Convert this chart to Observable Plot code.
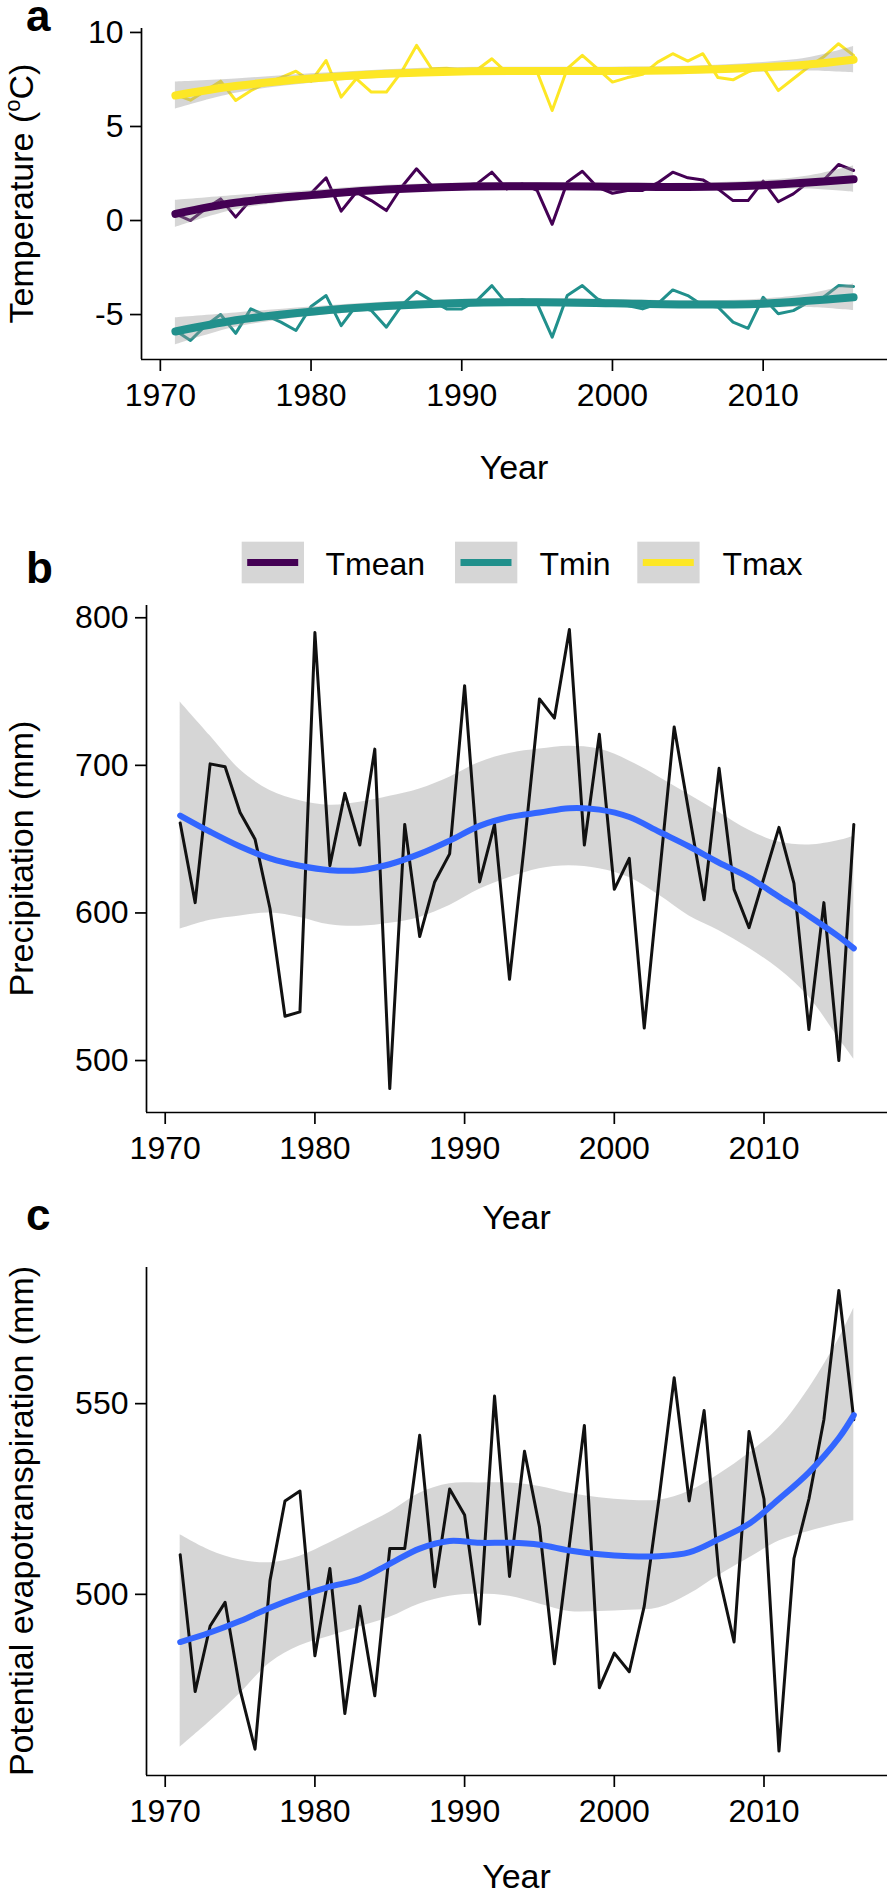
<!DOCTYPE html>
<html>
<head>
<meta charset="utf-8">
<script src="https://cdn.jsdelivr.net/npm/d3@7"></script>
<script src="https://cdn.jsdelivr.net/npm/@observablehq/plot@0.6"></script>
<style>
  html, body { margin: 0; padding: 0; background: #fff; }
  #fig { position: relative; width: 896px; height: 1897px; overflow: hidden; background: #fff; }
  #fig svg { position: absolute; left: 0; }
</style>
</head>
<body>
<div id="fig"></div>
<script>
// ---------------- data ----------------
const years = [1971,1972,1973,1974,1975,1976,1977,1978,1979,1980,
  1981,1982,1983,1984,1985,1986,1987,1988,1989,1990,
  1991,1992,1993,1994,1995,1996,1997,1998,1999,2000,
  2001,2002,2003,2004,2005,2006,2007,2008,2009,2010,
  2011,2012,2013,2014,2015,2016];

const tmean = [0.35,0.0,0.62,1.15,0.18,1.1,1.0,1.1,1.2,1.45,
  2.27,0.5,1.5,1.06,0.53,1.77,2.75,1.86,1.77,1.86,
  1.95,2.57,1.68,1.95,1.6,-0.2,2.04,2.62,1.77,1.45,
  1.6,1.6,2.0,2.57,2.27,2.16,1.68,1.06,1.06,2.09,
  1.0,1.42,2.04,2.13,2.98,2.66];
const tmin = [-5.85,-6.38,-5.59,-5.0,-6.0,-4.7,-5.05,-5.4,-5.85,-4.57,
  -3.99,-5.59,-4.52,-4.79,-5.67,-4.52,-3.78,-4.26,-4.7,-4.7,
  -4.26,-3.46,-4.43,-4.2,-4.4,-6.2,-3.99,-3.46,-4.17,-4.43,
  -4.52,-4.7,-4.43,-3.69,-3.99,-4.52,-4.6,-5.4,-5.73,-4.08,
  -4.96,-4.79,-4.34,-4.08,-3.46,-3.51];
const tmax = [6.7,6.4,6.9,7.41,6.38,6.9,7.3,7.6,7.94,7.4,
  8.51,6.56,7.54,6.83,6.83,7.9,9.31,8.07,8.1,8.0,
  8.0,8.6,7.85,8.07,7.9,5.85,8.07,8.78,8.07,7.36,
  7.6,7.77,8.42,8.87,8.48,8.87,7.6,7.48,7.9,8.16,
  6.91,7.54,8.16,8.69,9.4,8.78];

const precip = [661,607,701,699,668,650,603,530,533,790,
  632,681,646,711,481,660,584,621,640,754,
  621,660,555,647,745,732,792,646,721,616,
  637,522,624,726,667,609,698,616,590,624,
  658,620,521,607,500,660];
const pet = [510.4,474.5,491.7,497.9,475,459.4,503.6,524.5,527.1,483.9,
  506.8,468.75,496.9,473.4,512,512,541.7,502,527.6,520.8,
  492.2,552,504.7,537.5,517.7,481.8,513,544.3,475.5,484.6,
  479.7,496.9,525.5,556.8,524.5,548.2,504.7,487.5,542.7,525,
  458.9,509.4,525,545.8,579.7,545.8];

// smoothed (loess) curves and their confidence bands
const fitYearsA = [1971,1975,1980,1985,1990,1995,2000,2005,2010,2013,2016];
const tmeanFit = [0.35,0.95,1.35,1.65,1.8,1.82,1.8,1.78,1.88,2.02,2.2];
const tmeanLo  = [-0.37,0.57,1.10,1.43,1.60,1.62,1.60,1.58,1.63,1.67,1.50];
const tmeanHi  = [1.07,1.33,1.60,1.87,2.00,2.02,2.00,1.98,2.13,2.37,2.90];
const tminFit  = [-5.9,-5.3,-4.85,-4.55,-4.38,-4.35,-4.4,-4.47,-4.42,-4.27,-4.08];
const tminLo   = [-6.62,-5.68,-5.10,-4.77,-4.58,-4.55,-4.60,-4.67,-4.67,-4.62,-4.78];
const tminHi   = [-5.18,-4.92,-4.60,-4.33,-4.18,-4.15,-4.20,-4.27,-4.17,-3.92,-3.38];
const tmaxFit  = [6.65,7.15,7.55,7.8,7.93,7.95,7.95,8.0,8.15,8.3,8.55];
const tmaxLo   = [5.93,6.77,7.30,7.58,7.73,7.75,7.75,7.80,7.90,7.95,7.85];
const tmaxHi   = [7.37,7.53,7.80,8.02,8.13,8.15,8.15,8.20,8.40,8.65,9.25];

const fitYears = [1971,1973,1975,1977,1979,1981,1983,1985,1987,1989,1991,1993,
  1995,1997,1999,2001,2003,2005,2007,2009,2011,2013,2015,2016];
const precipFit = [666,655,645,637,632,629,629,633,640,649,659,665,668,671,670,665,655,645,634,624,611,598,584,576];
const precipHi  = [743,720,697,683,676,673,675,679,684,692,702,708,711,713,711,703,692,680,668,656,648,646,649,652];
const precipLo  = [589,595,598,600,597,592,591,593,597,605,616,624,630,632,630,624,612,598,588,576,562,543,515,501];
const petFit = [487.5,490,493,496.5,499.5,502,504,508,512,514,513.5,513.5,513,511.5,510.5,510,510,511,514.5,518.5,525,532,541,547];
const petHi  = [515.6,511.5,509,508.3,510,513.5,517.5,521.5,526.5,529,529.2,529.2,528.3,526.5,525.3,524.7,524.7,527,531.5,537,543.7,554,567,575];
const petLo  = [459.9,466.7,474,482,486.5,489,491.5,494,497.5,499.5,500,499.5,497.5,495.5,495.5,495.8,496.5,500,505,509.5,514,516.5,518.5,519.3];

const seriesNames = ["Tmean","Tmin","Tmax"];
const seriesColors = ["#440154","#21908C","#FDE725"];
const xTicks = [1970,1980,1990,2000,2010];
const tempTicks = [-5,0,5,10];
const precipTicks = [500,600,700,800];
const petTicks = [500,550];

// ---------------- build tables ----------------
const tempRaw = [], tempFit = [];
[[tmean, tmeanFit, tmeanLo, tmeanHi],[tmin, tminFit, tminLo, tminHi],[tmax, tmaxFit, tmaxLo, tmaxHi]]
  .forEach(([raw, fit, lo, hi], k) => {
    years.forEach((y, i) => tempRaw.push({year: y, value: raw[i], series: seriesNames[k]}));
    fitYearsA.forEach((y, i) => tempFit.push({year: y, fit: fit[i], lo: lo[i], hi: hi[i], series: seriesNames[k]}));
  });
const precipRaw = years.map((y, i) => ({year: y, value: precip[i]}));
const petRaw = years.map((y, i) => ({year: y, value: pet[i]}));
const precipSm = fitYears.map((y, i) => ({year: y, fit: precipFit[i], lo: precipLo[i], hi: precipHi[i]}));
const petSm = fitYears.map((y, i) => ({year: y, fit: petFit[i], lo: petLo[i], hi: petHi[i]}));

// ---------------- drawing ----------------
const FONT = '"Liberation Sans", Arial, Helvetica, sans-serif';
const X_DOMAIN = [1968.75, 2018.25];
const fig = document.getElementById("fig");

function panel({top, height, marginTop, marginBottom, marginLeft, yDomain, yTicks, marks}) {
  const svg = Plot.plot({
    width: 896, height, marginTop, marginBottom, marginLeft, marginRight: 9,
    x: {domain: X_DOMAIN},
    y: {domain: yDomain},
    color: {domain: seriesNames, range: seriesColors},
    style: {fontFamily: FONT, fontSize: "32px", color: "#000", background: "transparent"},
    marks: [
      ...marks,
      Plot.ruleX([X_DOMAIN[0]], {stroke: "#000", strokeWidth: 1.7}),
      Plot.ruleY([yDomain[0]], {stroke: "#000", strokeWidth: 1.7}),
      Plot.axisX({ticks: xTicks, tickFormat: d => String(d), tickSize: 12, tickPadding: 12,
        fontSize: 32, label: null, stroke: "#000", strokeWidth: 1.7}),
      Plot.axisY({ticks: yTicks, tickFormat: d => String(d), tickSize: 11, tickPadding: 7,
        fontSize: 32, label: null, stroke: "#000", strokeWidth: 1.7})
    ]
  });
  svg.style.top = top + "px";
  fig.appendChild(svg);
}

// panel a
panel({
  top: 0, height: 430, marginTop: 28, marginBottom: 71, marginLeft: 141,
  yDomain: [-7.39, 10.21], yTicks: tempTicks,
  marks: [
    Plot.line(tempRaw, {x: "year", y: "value", z: "series", stroke: "series", strokeWidth: 3}),
    Plot.areaY(tempFit, {x: "year", y1: "lo", y2: "hi", z: "series", fill: "#999999", fillOpacity: 0.4, curve: "catmull-rom"}),
    Plot.line(tempFit, {x: "year", y: "fit", z: "series", stroke: "series", strokeWidth: 8, curve: "catmull-rom"})
  ]
});

// panel b
panel({
  top: 590, height: 580, marginTop: 15, marginBottom: 58, marginLeft: 146,
  yDomain: [464.8, 808.3], yTicks: precipTicks,
  marks: [
    Plot.areaY(precipSm, {x: "year", y1: "lo", y2: "hi", fill: "#999999", fillOpacity: 0.4, curve: "catmull-rom"}),
    Plot.line(precipRaw, {x: "year", y: "value", stroke: "#111", strokeWidth: 3}),
    Plot.line(precipSm, {x: "year", y: "fit", stroke: "#3366FF", strokeWidth: 6, curve: "catmull-rom"})
  ]
});

// panel c
panel({
  top: 1240, height: 600, marginTop: 27, marginBottom: 65, marginLeft: 146,
  yDomain: [452.5, 585.7], yTicks: petTicks,
  marks: [
    Plot.areaY(petSm, {x: "year", y1: "lo", y2: "hi", fill: "#999999", fillOpacity: 0.4, curve: "catmull-rom"}),
    Plot.line(petRaw, {x: "year", y: "value", stroke: "#111", strokeWidth: 3}),
    Plot.line(petSm, {x: "year", y: "fit", stroke: "#3366FF", strokeWidth: 6, curve: "catmull-rom"})
  ]
});

// ---------------- annotations: titles, panel letters, legend ----------------
const ov = d3.select(fig).append("svg")
  .attr("width", 896).attr("height", 1897)
  .style("top", "0px").style("pointer-events", "none")
  .attr("font-family", FONT).attr("fill", "#000");

[["a", 31], ["b", 583], ["c", 1230]].forEach(([t, y]) =>
  ov.append("text").attr("x", 26).attr("y", y).attr("font-size", 44).attr("font-weight", "bold").text(t));

[[514, 479], [516.5, 1229], [516.5, 1888]].forEach(([x, y]) =>
  ov.append("text").attr("x", x).attr("y", y).attr("font-size", 34).attr("text-anchor", "middle").text("Year"));

const tT = ov.append("text").attr("transform", "translate(33,193.5) rotate(-90)")
  .attr("text-anchor", "middle").attr("font-size", 34);
tT.append("tspan").text("Temperature (");
tT.append("tspan").attr("font-size", 22).attr("dy", -13).text("o");
tT.append("tspan").attr("dy", 13).text("C)");

ov.append("text").attr("transform", "translate(33,858.5) rotate(-90)")
  .attr("text-anchor", "middle").attr("font-size", 34).text("Precipitation (mm)");
ov.append("text").attr("transform", "translate(33,1521) rotate(-90)")
  .attr("text-anchor", "middle").attr("font-size", 34).text("Potential evapotranspiration (mm)");

const keyX = [241.7, 455, 637.3];
const labelX = [325.5, 539.5, 722.5];
seriesNames.forEach((name, i) => {
  ov.append("rect").attr("x", keyX[i]).attr("y", 541.7).attr("width", 62.3).attr("height", 41.6)
    .attr("fill", "#999999").attr("fill-opacity", 0.4);
  ov.append("line").attr("x1", keyX[i] + 5.5).attr("x2", keyX[i] + 56.5)
    .attr("y1", 562.5).attr("y2", 562.5).attr("stroke", seriesColors[i]).attr("stroke-width", 7);
  ov.append("text").attr("x", labelX[i]).attr("y", 575).attr("font-size", 32).text(name);
});
</script>
</body>
</html>
